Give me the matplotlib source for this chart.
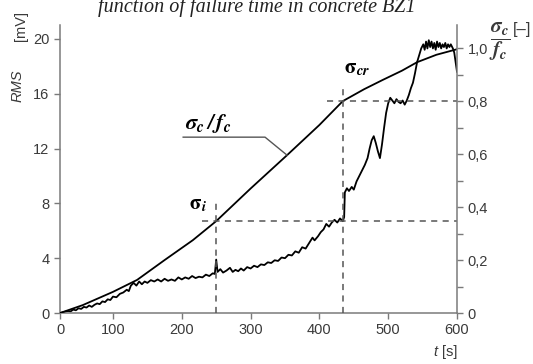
import numpy as np
import matplotlib
matplotlib.use('Agg')
import matplotlib.pyplot as plt
from matplotlib.ticker import FixedLocator, MultipleLocator

plt.rcParams['font.family'] = ['Liberation Sans', 'DejaVu Sans']
plt.rcParams['mathtext.fontset'] = 'stix'

# RMS [mV] vs t [s] (lewa os)
T_RMS = [0, 5, 10, 15, 20, 25, 30, 35, 40, 45, 50, 55, 60, 65, 70, 75, 80, 85, 90, 95,
         100, 105, 110, 115, 120, 123, 126, 130, 134, 138, 142, 146, 150, 155, 160, 165,
         170, 175, 180, 185, 190, 195, 200, 205, 210, 215, 220, 225, 230, 235, 240, 245,
         248, 250, 252, 256, 260, 265, 270, 274, 278, 282, 286, 290, 295, 300, 305, 310,
         315, 320, 325, 330, 335, 340, 345, 350, 355, 360, 365, 370, 375, 380, 385, 390,
         393, 398, 402, 406, 410, 414, 418, 422, 426, 430, 434, 436, 437, 440, 443, 447,
         450, 454, 458, 462, 466, 470, 473, 476, 479, 482, 485, 488, 491, 494, 497, 500,
         503, 506, 509, 512, 515, 518, 521, 524, 527, 530, 533, 536, 539, 542, 545, 548,
         551, 553, 555, 557, 559, 561, 563, 565, 567, 569, 571, 573, 575, 577, 579, 581,
         583, 585, 587, 589, 591, 594, 596, 600]
RMS = [0.0, 0.05, 0.1, 0.15, 0.12, 0.25, 0.2, 0.35, 0.3, 0.45, 0.4, 0.55, 0.45, 0.6, 0.7,
       0.65, 0.85, 0.8, 1.0, 0.95, 1.2, 1.15, 1.4, 1.5, 1.7, 1.6, 2.0, 2.2, 2.0, 2.3, 2.1,
       2.3, 2.2, 2.4, 2.3, 2.45, 2.3, 2.5, 2.35, 2.45, 2.35, 2.6, 2.45, 2.6, 2.5, 2.7, 2.55,
       2.65, 2.6, 2.8, 2.7, 2.9, 2.85, 3.9, 3.0, 3.2, 2.95, 3.1, 3.3, 3.0, 3.15, 3.05, 3.25,
       3.1, 3.35, 3.25, 3.45, 3.35, 3.55, 3.5, 3.7, 3.65, 3.85, 3.8, 4.05, 4.0, 4.25, 4.2,
       4.5, 4.4, 4.8, 4.7, 5.1, 5.5, 5.3, 5.6, 5.9, 6.1, 6.5, 6.3, 6.6, 6.8, 6.6, 6.9, 6.7,
       7.0, 8.8, 9.1, 8.9, 9.2, 9.0, 9.6, 10.0, 10.4, 10.8, 11.3, 12.0, 12.6, 12.9, 12.4,
       11.8, 11.3, 12.3, 13.5, 14.6, 15.3, 15.7, 15.5, 15.3, 15.6, 15.4, 15.3, 15.5, 15.2,
       15.5, 15.9, 16.4, 16.8, 17.5, 18.3, 18.8, 19.3, 19.6, 19.2, 19.8, 19.3, 19.9, 19.4,
       19.8, 19.3, 19.7, 19.2, 19.8, 19.4, 19.7, 19.3, 19.6, 19.4, 19.7, 19.3, 19.6, 19.4,
       19.6, 19.3, 19.0, 17.6]

# sigma_c / f_c vs t (prawa os)
T_SIG = [0, 43, 100, 135, 175, 216, 250, 300, 353, 400, 434, 465, 492, 520, 542, 570, 600]
SIG = [0.0, 0.03, 0.08, 0.125, 0.2, 0.275, 0.347, 0.47, 0.596, 0.71, 0.80, 0.845, 0.88,
       0.915, 0.947, 0.975, 0.996]

T_I, SIG_I = 250, 0.347
T_CR, SIG_CR = 435, 0.80

X_TICKS = [0, 100, 200, 300, 400, 500, 600]
Y_TICKS = [0, 4, 8, 12, 16, 20]
R_TICKS = [0, 0.2, 0.4, 0.6, 0.8, 1.0]
R_LABELS = ['0', '0,2', '0,4', '0,6', '0,8', '1,0']

# os czasu: odcinek 0-100 scisniety jak na oryginale
A = 0.77


def fwd(x):
    x = np.asarray(x, dtype=float)
    return np.where(x < 100, A * x, x - 100 + 100 * A)


def inv(y):
    y = np.asarray(y, dtype=float)
    return np.where(y < 100 * A, y / A, y + 100 - 100 * A)


GRAY = '#7a7a7a'
TXT = '#3a3a3a'

fig = plt.figure(figsize=(5.33, 3.64), dpi=100)
ax = fig.add_axes([0.1126, 0.140, 0.7448, 0.791])
ax2 = ax.twinx()

ax.set_xscale('function', functions=(fwd, inv))
ax.plot(T_RMS, RMS, color='black', linewidth=1.3)
ax.set_xlim(0, 600)
ax.set_ylim(0, 21.0)
ax.xaxis.set_major_locator(FixedLocator(X_TICKS))
ax.xaxis.set_minor_locator(FixedLocator([]))
ax.set_xticklabels([str(v) for v in X_TICKS])
ax.set_yticks(Y_TICKS)

ax2.plot(T_SIG, SIG, color='black', linewidth=1.3)
ax2.set_ylim(0, 1.087)
ax2.set_yticks(R_TICKS)
ax2.set_yticklabels(R_LABELS)
ax2.yaxis.set_minor_locator(MultipleLocator(0.1))

# linie przerywane
dash = dict(color='#555555', linewidth=1.1, linestyle=(0, (4, 3.5)))
ax2.plot([T_I, T_I], [0, 0.415], **dash)
ax2.plot([229, 600], [SIG_I, SIG_I], **dash)
ax2.plot([T_CR, T_CR], [0, 0.85], **dash)
ax2.plot([411, 600], [SIG_CR, SIG_CR], **dash)

# opis krzywej
ax2.plot([202, 321, 353], [0.664, 0.664, 0.596], color='#555555', linewidth=1.0)
ax2.text(238, 0.672, r'$\mathbfit{\sigma_c\,/\,f_c}$', fontsize=16, ha='center', va='bottom')
ax2.text(224, 0.41, r'$\mathbf{\sigma}_{\mathbfit{i}}$', fontsize=15, ha='center', va='center')
ax2.text(455, 0.925, r'$\mathbf{\sigma}_{\mathbfit{cr}}$', fontsize=15, ha='center', va='center')

for a in (ax, ax2):
    a.spines['top'].set_visible(False)
    for s in a.spines.values():
        s.set_color(GRAY)
        s.set_linewidth(1.1)
    a.tick_params(which='both', colors=GRAY, labelcolor=TXT, labelsize=10.5, length=4, width=1)
ax.spines['right'].set_visible(False)
ax2.spines['left'].set_visible(False)
ax2.spines['bottom'].set_visible(False)

# etykiety osi
fig.text(0.033, 0.764, 'RMS', rotation=90, ha='center', va='center', color=TXT,
         fontsize=10.5, style='italic')
fig.text(0.040, 0.929, '[mV]', rotation=90, ha='center', va='center', color=TXT, fontsize=10.5)
fig.text(0.820, 0.033, 't', ha='right', va='center', color=TXT, fontsize=10.5, style='italic')
fig.text(0.858, 0.033, '[s]', ha='right', va='center', color=TXT, fontsize=10.5)
fig.text(0.918, 0.885, r'$\dfrac{\mathbfit{\sigma_c}}{\mathbfit{f_c}}$', ha='left',
         va='center', fontsize=15, color=TXT)
fig.text(0.962, 0.918, '[–]', ha='left', va='center', fontsize=12, color=TXT)

# tytul (uciety u gory)
fig.text(0.482, 0.968, 'function of failure time in concrete BZ1', ha='center', va='baseline',
         fontsize=14.5, style='italic', family='Liberation Serif', color='#222222')

fig.savefig('out.png', dpi=100)
